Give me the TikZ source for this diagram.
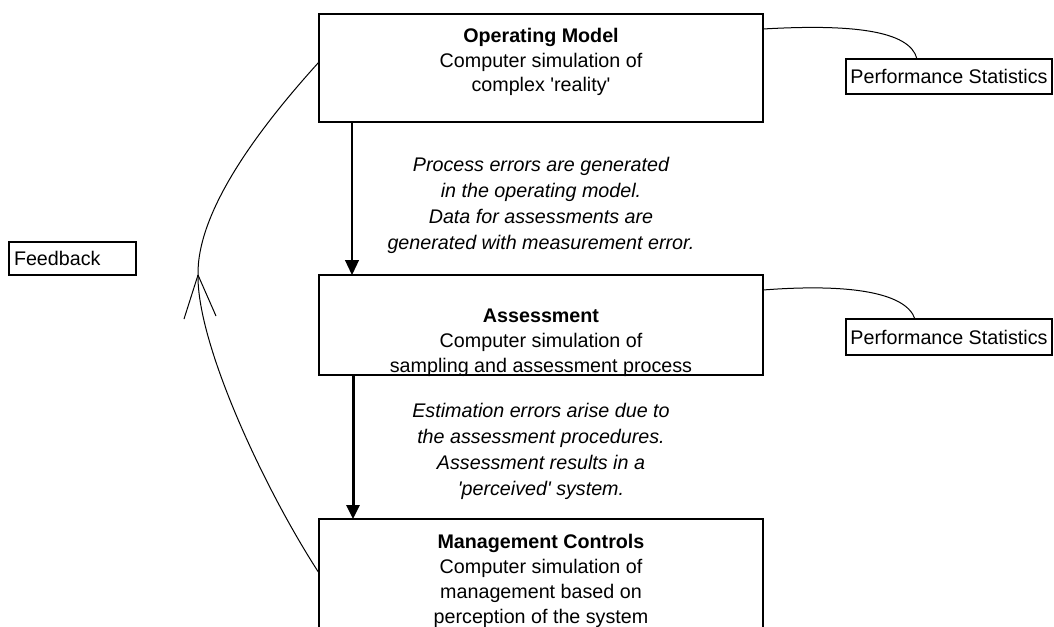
\documentclass[tikz,border=0pt]{standalone}
\usepackage{fontspec}
\setmainfont{Liberation Sans}
\usetikzlibrary{arrows.meta,calc}
\begin{document}
\begin{tikzpicture}[x=1pt,y=-1pt,
  every node/.style={font=\fontsize{19.7}{25}\selectfont},
  box/.style={draw, line width=2.5pt, inner sep=0pt, outer sep=0pt, minimum width=444pt},
  smallbox/.style={draw, line width=1.1pt, inner xsep=4pt, inner ysep=0pt, outer sep=0pt, anchor=north west},
  txt/.style={inner sep=0pt, anchor=base},
  itxt/.style={inner sep=0pt, anchor=base, font=\fontsize{19.7}{26}\selectfont\itshape},
  conn/.style={line width=1pt},
]
\useasboundingbox (0,0) rectangle (1054,626);
\clip (0,0) rectangle (1054,626);

% main boxes
\node[box, minimum height=108pt] (top) at (541,68) {};
\node[box, minimum height=100pt] (ass) at (541,325) {};
\node[box, minimum height=126pt] (mgmt) at (541,582) {};

% side boxes
\node[smallbox, minimum width=206pt, minimum height=35pt] (ps1) at (846,59) {Performance Statistics};
\node[smallbox, minimum width=206pt, minimum height=36pt] (ps2) at (846,319) {Performance Statistics};
\node[smallbox, inner xsep=5pt, text width=117pt, align=left, minimum height=33pt] (fb) at (9,242) {Feedback};

% box texts
\node[txt] (toptxt) at (541,42) {\begin{tabular}[t]{@{}c@{}}\textbf{Operating Model}\\Computer simulation of\\complex \textquotesingle reality\textquotesingle\end{tabular}};
\node[txt] (asstxt) at (541,322) {\begin{tabular}[t]{@{}c@{}}\textbf{Assessment}\\Computer simulation of\\sampling and assessment process\end{tabular}};
\node[txt] (mgmttxt) at (541,548) {\begin{tabular}[t]{@{}c@{}}\textbf{Management Controls}\\Computer simulation of\\management based on\\perception of the system\end{tabular}};

% italic notes
\node[itxt] (note1) at (541,171) {\begin{tabular}[t]{@{}c@{}}Process errors are generated\\in the operating model.\\Data for assessments are\\generated with measurement error.\end{tabular}};
\node[itxt] (note2) at (541,417) {\begin{tabular}[t]{@{}c@{}}Estimation errors arise due to\\the assessment procedures.\\Assessment results in a\\\textquotesingle perceived\textquotesingle{} system.\end{tabular}};

% arrows
\draw[line width=1.2pt, -{Triangle[length=15pt,width=14pt]}] ($(top.south west)+(33,0)$) -- ($(ass.north west)+(33,0)$);
\draw[line width=3pt, -{Triangle[length=14pt,width=13pt]}] ($(ass.south west)+(34,0)$) -- ($(mgmt.north west)+(34,0)$);

% performance statistics connectors
\draw[conn] ($(top.north east)+(0,15)$) .. controls (850,24) and (910,30) .. ($(ps1.north west)+(71,0)$);
\draw[conn] ($(ass.north east)+(0,15)$) .. controls (840,284) and (905,290) .. ($(ps2.north west)+(69,0)$);

% feedback loop
\coordinate (fork) at (198,275);
\draw[conn] ($(mgmt.north west)+(0,54)$) .. controls (265,490) and (197,345) .. (fork) .. controls (197,215) and (251,137) .. ($(top.north west)+(0,48)$);
\draw[conn] (fork) -- ++(-14,44);
\draw[conn] (fork) -- ++(18,41);
\end{tikzpicture}
\end{document}
